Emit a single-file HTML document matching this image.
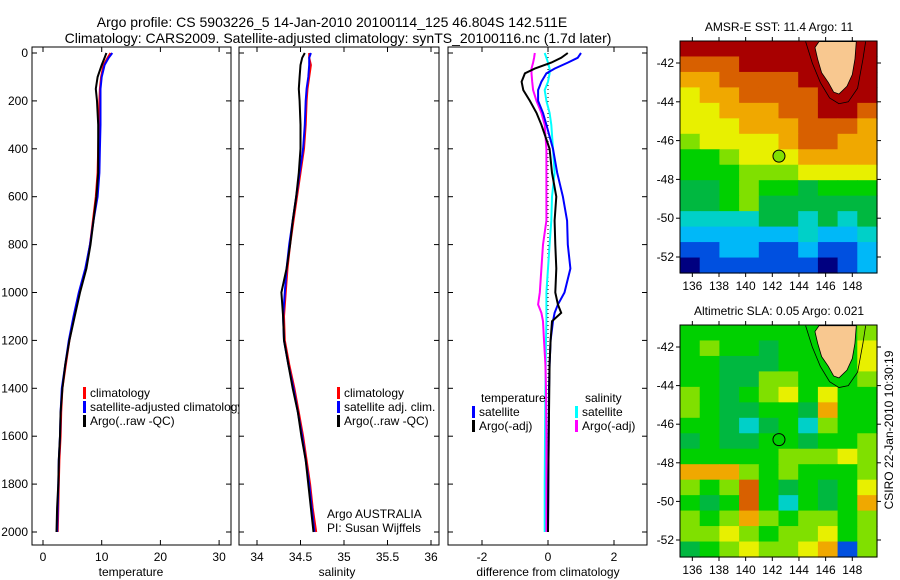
<!DOCTYPE html>
<html><head><meta charset="utf-8"><style>
body{margin:0;background:#fff;}
svg{display:block;font-family:"Liberation Sans",sans-serif;}
text{fill:#000;}
</style></head><body>
<svg id="s" width="900" height="580" xmlns="http://www.w3.org/2000/svg">
<text x="332" y="27" font-size="14" text-anchor="middle">Argo profile: CS 5903226_5 14-Jan-2010 20100114_125 46.804S 142.511E</text>
<text x="338" y="43" font-size="14" text-anchor="middle">Climatology: CARS2009. Satellite-adjusted climatology: synTS_20100116.nc (1.7d later)</text>
<g id="g"></g>
</svg>
<script>
// depth levels (m)
const depths=[0,20,50,100,150,200,300,400,500,600,700,800,900,1000,1100,1200,1300,1400,1500,1600,1700,1800,1900,2000];
const tempClim=[11.5,11,10.3,9.9,9.7,9.6,9.5,9.4,9.3,9.0,8.5,8.0,7.3,6.2,5.3,4.5,3.9,3.3,3.1,3.0,2.8,2.7,2.6,2.5];
const tempSat=[11.8,11.2,10.5,10.0,9.8,9.8,9.8,9.7,9.6,9.3,8.6,8.0,7.2,6.1,5.2,4.4,3.8,3.2,3.0,2.9,2.7,2.6,2.5,2.4];
const tempArgo=[10.8,10.5,10.0,9.3,9.0,9.2,9.4,9.4,9.4,9.1,8.6,8.1,7.4,6.3,5.4,4.5,3.8,3.3,3.0,2.9,2.7,2.6,2.4,2.3];
const salClim=[34.6,34.6,34.62,34.6,34.58,34.57,34.56,34.54,34.5,34.46,34.42,34.38,34.35,34.33,34.31,34.32,34.37,34.43,34.48,34.53,34.57,34.61,34.64,34.68];
const salSat=[34.62,34.6,34.6,34.59,34.57,34.56,34.55,34.53,34.49,34.45,34.41,34.37,34.34,34.32,34.3,34.31,34.36,34.42,34.47,34.52,34.56,34.6,34.63,34.66];
const salArgo=[34.55,34.52,34.5,34.49,34.48,34.49,34.5,34.5,34.48,34.45,34.41,34.38,34.34,34.28,34.3,34.31,34.36,34.41,34.47,34.51,34.56,34.59,34.62,34.65];
const difDepths=[0,20,40,65,85,120,155,200,250,300,400,500,600,700,800,900,1000,1050,1085,1120,1200,1300,1400,1600,1800,2000];
const difTempSat=[1.0,0.9,0.6,0.2,-0.05,-0.2,-0.3,-0.3,-0.15,-0.05,0.15,0.28,0.45,0.58,0.6,0.68,0.5,0.3,0.2,0.15,0.08,0.05,0.03,0.02,0.01,0.0];
const difTempArgo=[0.6,0.4,0.1,-0.4,-0.7,-0.8,-0.75,-0.55,-0.35,-0.2,0.05,0.12,0.25,0.2,0.22,0.25,0.22,0.3,0.4,0.12,0.08,0.05,0.04,0.02,0.01,0.0];
const difSalSat=[-0.1,-0.05,0.0,0.05,0.05,0.0,-0.1,-0.05,0.05,0.1,0.15,0.2,0.12,0.1,0.05,0.0,-0.05,-0.05,-0.05,-0.05,-0.06,-0.07,-0.08,-0.09,-0.1,-0.1];
const difSalArgo=[-0.4,-0.42,-0.45,-0.5,-0.5,-0.48,-0.45,-0.35,-0.2,-0.1,-0.05,-0.05,-0.05,-0.05,-0.15,-0.2,-0.25,-0.3,-0.2,-0.15,-0.12,-0.08,-0.06,-0.05,-0.05,-0.05];
const tempTicks=[0,10,20,30], salTicks=[34,34.5,35,35.5,36], difTicks=[-2,0,2], depthTicks=[0,200,400,600,800,1000,1200,1400,1600,1800,2000];
// map grids (colour index 0..10)
const sstGrid=[
[10,10,10,10,10,10,10,10,10,10],[9,9,9,10,10,10,10,10,10,10],[8,8,9,9,9,9,10,10,10,10],
[7,8,8,9,9,9,9,10,10,10],[7,7,8,8,8,9,9,10,10,9],[7,7,7,8,8,8,9,9,9,8],[6,7,7,7,7,8,9,9,8,8],
[5,5,6,7,7,7,8,8,8,8],[5,5,5,6,6,6,7,7,7,7],[4,4,5,6,5,5,4,5,5,5],[4,4,5,6,4,4,4,4,4,4],
[3,3,3,3,4,4,3,4,3,4],[2,2,2,2,2,2,3,2,2,3],[1,1,2,2,1,1,2,1,1,2],[0,1,1,1,1,1,1,0,1,2]];
const slaGrid=[
[5,5,5,5,5,5,5,5,5,6],[5,6,5,5,4,5,5,5,5,7],[5,5,4,4,4,5,5,5,5,7],[5,5,4,4,6,6,5,5,5,6],
[6,5,4,5,6,7,5,7,5,5],[6,5,4,4,5,5,4,8,5,5],[5,5,4,3,4,5,3,6,5,5],[4,5,4,4,5,5,4,5,5,6],
[5,5,5,5,5,6,6,6,7,6],[8,8,8,6,5,6,5,5,5,6],[6,5,6,9,5,4,5,4,5,7],[5,4,5,9,5,3,5,4,5,8],
[6,5,6,8,6,5,6,6,5,6],[6,6,7,6,5,6,6,7,5,6],[4,5,6,7,6,6,7,8,1,6]];
const lonTicks=[136,138,140,142,144,146,148], latTicks=[-42,-44,-46,-48,-50,-52];
const cmap=['#000080','#0050e0','#00b8f8','#00d0c8','#00b840','#00d000','#80e000','#e8f000','#f0a800','#d86000','#a80000'];

const NS='http://www.w3.org/2000/svg', G=document.getElementById('g');
function el(t,a,p){const e=document.createElementNS(NS,t);for(const k in a)e.setAttribute(k,a[k]);(p||G).appendChild(e);return e;}
const yD=d=>53+d*0.2395;
function panel(name,x0,x1,xf,ticks,showY,rightLbl){
  const g=el('g',{});
  
  
  el('rect',{x:x0,y:47,width:x1-x0,height:498,fill:'#fff',stroke:'#000','stroke-width':1},g);
  ticks.forEach(t=>{const x=xf(t);
    el('line',{x1:x,x2:x,y1:545,y2:540,stroke:'#000'},g);el('line',{x1:x,x2:x,y1:47,y2:52,stroke:'#000'},g);
    const tx=el('text',{x:x,y:561,'font-size':12,'text-anchor':'middle'},g);tx.textContent=t;
    
    });
  depthTicks.forEach(d=>{const y=yD(d);
    el('line',{x1:x0,x2:x0+5,y1:y,y2:y,stroke:'#000'},g);el('line',{x1:x1,x2:x1-5,y1:y,y2:y,stroke:'#000'},g);
    if(showY){const tx=el('text',{x:x0-4,y:y+4,'font-size':12,'text-anchor':'end'},g);tx.textContent=d;
      
      }});
  return g;
}
function line(g,vals,ds,xf,col,w,name,dash){
  const pts=vals.map((v,i)=>xf(v).toFixed(1)+','+yD(ds[i]).toFixed(1)).join(' ');
  const p=el('polyline',{points:pts,fill:'none',stroke:col,'stroke-width':w},g);
  if(dash)p.setAttribute('stroke-dasharray',dash);
  
  
}
function txt(g,x,y,s,name,sz,anchor){const t=el('text',{x:x,y:y,'font-size':sz||12,'text-anchor':anchor||'start'},g);t.textContent=s;
  
  return t;}
function leg(g,x,y,col,s,name){el('rect',{x:x,y:y-10,width:3,height:12,fill:col},g);txt(g,x+7,y,s,name);}

// Panel 1 temperature
const xT=t=>43+t*5.87;
let g1=panel('temperature-panel',32,231,xT,tempTicks,true);
line(g1,tempClim,depths,xT,'#f00',2,'temp-climatology-line');
line(g1,tempSat,depths,xT,'#00f',2,'temp-satellite-line');
line(g1,tempArgo,depths,xT,'#000',2,'temp-argo-line');
leg(g1,83,397,'#f00','climatology','legend-climatology');
leg(g1,83,411,'#00f','satellite-adjusted climatology','legend-satellite');
leg(g1,83,425,'#000','Argo(..raw -QC)','legend-argo');
txt(g1,131,576,'temperature','x-axis-title-temperature',12,'middle');
// Panel 2 salinity
const xS=s=>257+(s-34)*87;
let g2=panel('salinity-panel',239,439,xS,salTicks,false);
line(g2,salClim,depths,xS,'#f00',2,'sal-climatology-line');
line(g2,salSat,depths,xS,'#00f',2,'sal-satellite-line');
line(g2,salArgo,depths,xS,'#000',2,'sal-argo-line');
leg(g2,337,397,'#f00','climatology','legend-climatology');
leg(g2,337,411,'#00f','satellite adj. clim.','legend-satellite');
leg(g2,337,425,'#000','Argo(..raw -QC)','legend-argo');
txt(g2,327,518,'Argo AUSTRALIA','argo-australia-label');
txt(g2,327,532,'PI: Susan Wijffels','pi-label');
txt(g2,337,576,'salinity','x-axis-title-salinity',12,'middle');
// Panel 3 differences
const xDf=v=>548+v*33;
let g3=panel('difference-panel',448,647,xDf,difTicks,false);
el('line',{x1:xDf(0),x2:xDf(0),y1:yD(0),y2:yD(2000),stroke:'#000','stroke-dasharray':'1,3'},g3);
line(g3,difSalSat,difDepths,xDf,'#0ff',2,'diff-sal-satellite-line');
line(g3,difSalArgo,difDepths,xDf,'#f0f',2,'diff-sal-argo-line');
line(g3,difTempSat,difDepths,xDf,'#00f',2,'diff-temp-satellite-line');
line(g3,difTempArgo,difDepths,xDf,'#000',2,'diff-temp-argo-line');
txt(g3,481,402,'temperature','legend-temperature-header');
txt(g3,585,402,'salinity','legend-salinity-header');
leg(g3,472,416,'#00f','satellite','legend-temp-satellite');
leg(g3,472,430,'#000','Argo(-adj)','legend-temp-argo');
leg(g3,575,416,'#0ff','satellite','legend-sal-satellite');
leg(g3,575,430,'#f0f','Argo(-adj)','legend-sal-argo');
txt(g3,548,576,'difference from climatology','x-axis-title-difference',12,'middle');

// Maps
function map(name,grid,top,bot,lat42,lat52,title,markFill){
  const x0=680,x1=877,g=el('g',{});
  
  
  const rows=grid.length,cols=grid[0].length,cw=(x1-x0)/cols,ch=(bot-top)/rows;
  grid.forEach((r,i)=>r.forEach((v,j)=>{const c=el('rect',{x:x0+j*cw,y:top+i*ch,width:cw+0.6,height:ch+0.6,fill:cmap[v]},g);
    
    }));
  const lon=l=>679+(l-135)*13.33, lat=a=>lat42+(-42-a)*(lat52-lat42)/10;
  // Tasmania
  const land=[[146,-40.9],[148.3,-40.9],[148.2,-41.8],[148.0,-42.6],[147.6,-43.2],[147.0,-43.6],[146.6,-43.5],[146.2,-43.0],[145.7,-42.5],[145.4,-41.8],[145.2,-41.2],[145.5,-40.9]];
  el('polygon',{points:land.map(p=>lon(p[0])+','+lat(p[1])).join(' '),fill:'#f8c890',stroke:'#000','stroke-width':0.8},g);
  const cont=[[144.5,-40.9],[145,-42],[145.6,-43],[146.3,-43.8],[147,-44.1],[147.7,-44],[148.4,-43.3],[148.8,-41.8],[149.0,-40.9]];
  el('polyline',{points:cont.map(p=>lon(p[0])+','+lat(p[1])).join(' '),fill:'none',stroke:'#000','stroke-width':0.8},g);
  const m=el('circle',{cx:lon(142.5),cy:lat(-46.8),r:6,fill:markFill,stroke:'#000','stroke-width':1},g);
  
  
  el('rect',{x:x0,y:top,width:x1-x0,height:bot-top,fill:'none',stroke:'#000'},g);
  lonTicks.forEach(l=>{const x=lon(l);el('line',{x1:x,x2:x,y1:bot,y2:bot+4,stroke:'#000'},g);el('line',{x1:x,x2:x,y1:top,y2:top-4,stroke:'#000'},g);
    txt(g,x,bot+17,l,'lon-tick-label',12,'middle');});
  latTicks.forEach(a=>{const y=lat(a);el('line',{x1:x0,x2:x0-4,y1:y,y2:y,stroke:'#000'},g);el('line',{x1:x1,x2:x1+4,y1:y,y2:y,stroke:'#000'},g);
    txt(g,x0-6,y+4,a,'lat-tick-label',12,'end');});
  txt(g,779,top-10,title,'map-title',12,'middle');
}
map('sst-map',sstGrid,41,273,63,257,'AMSR-E SST: 11.4 Argo: 11','#80e000');
map('sla-map',slaGrid,325,557,347,540,'Altimetric SLA: 0.05 Argo: 0.021','none');
const cs=txt(G,0,0,'CSIRO 22-Jan-2010 10:30:19','csiro-timestamp',12,'middle');
cs.setAttribute('transform','translate(893,430) rotate(-90)');
</script>
</body></html>
